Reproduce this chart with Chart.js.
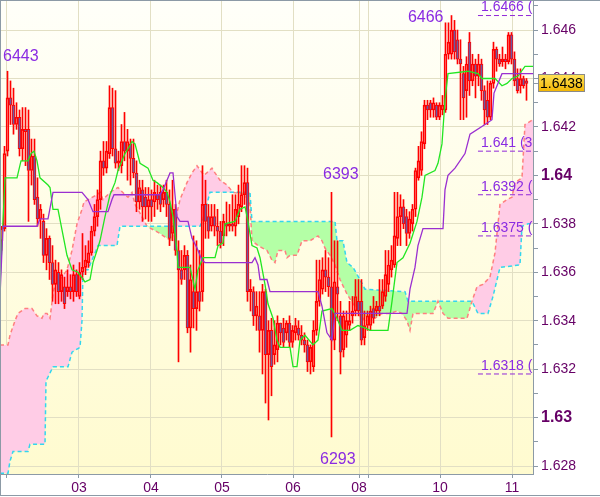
<!DOCTYPE html>
<html>
<head>
<meta charset="utf-8">
<script src="https://cdn.jsdelivr.net/npm/chart.js@4.4.1/dist/chart.umd.min.js"></script>
<style>
  html, body { margin: 0; padding: 0; background: #fff; }
  canvas { display: block; }
</style>
</head>
<body>
<canvas id="chart" width="600" height="497"></canvas>
<script>
// hourly candles, bar 0 is the first one on the left
const open = [
  1.6373,1.6378,1.6410,1.6432,1.6429,1.6421,1.6424,1.6411,1.6419,1.6419,
  1.6402,1.6408,1.6391,1.6382,1.6381,1.6367,1.6374,1.6364,1.6355,1.6360,
  1.6352,1.6354,1.6352,1.6354,1.6352,1.6359,1.6350,1.6360,1.6362,1.6364,
  1.6368,1.6377,1.6383,1.6390,1.6406,1.6403,1.6409,1.6428,1.6411,1.6405,
  1.6404,1.6414,1.6410,1.6413,1.6407,1.6401,1.6389,1.6394,1.6391,1.6387,
  1.6390,1.6389,1.6392,1.6393,1.6390,1.6393,1.6388,1.6376,1.6386,1.6369,
  1.6361,1.6361,1.6367,1.6337,1.6352,1.6345,1.6352,1.6352,1.6388,1.6383,
  1.6379,1.6383,1.6379,1.6377,1.6375,1.6380,1.6379,1.6380,1.6379,1.6383,
  1.6387,1.6392,1.6397,1.6352,1.6352,1.6342,1.6342,1.6336,1.6352,1.6326,
  1.6336,1.6326,1.6328,1.6339,1.6337,1.6335,1.6339,1.6331,1.6335,1.6337,
  1.6334,1.6332,1.6330,1.6323,1.6321,1.6336,1.6348,1.6353,1.6361,1.6358,
  1.6354,1.6332,1.6354,1.6342,1.6328,1.6334,1.6338,1.6342,1.6344,1.6348,
  1.6348,1.6333,1.6338,1.6338,1.6345,1.6344,1.6346,1.6346,1.6350,1.6355,
  1.6361,1.6363,1.6374,1.6383,1.6387,1.6383,1.6376,1.6380,1.6386,1.6399,
  1.6402,1.6413,1.6429,1.6430,1.6427,1.6429,1.6424,1.6427,1.6427,1.6450,
  1.6450,1.6460,1.6456,1.6448,1.6442,1.6435,1.6455,1.6439,1.6446,1.6441,
  1.6446,1.6435,1.6431,1.6424,1.6438,1.6452,1.6448,1.6447,1.6448,1.6447,
  1.6458,1.6448,1.6440,1.6437,1.6440,1.6439
];
const high = [
  1.6379,1.6412,1.6443,1.6439,1.6436,1.6430,1.6427,1.6428,1.6428,1.6427,
  1.6415,1.6415,1.6399,1.6388,1.6384,1.6378,1.6375,1.6371,1.6365,1.6364,
  1.6361,1.6358,1.6361,1.6359,1.6363,1.6361,1.6364,1.6376,1.6371,1.6373,
  1.6379,1.6388,1.6394,1.6410,1.6414,1.6414,1.6437,1.6436,1.6435,1.6410,
  1.6421,1.6426,1.6419,1.6415,1.6415,1.6406,1.6398,1.6398,1.6395,1.6395,
  1.6394,1.6398,1.6396,1.6396,1.6396,1.6398,1.6394,1.6398,1.6388,1.6373,
  1.6369,1.6371,1.6369,1.6363,1.6375,1.6373,1.6369,1.6404,1.6398,1.6388,
  1.6388,1.6388,1.6386,1.6381,1.6384,1.6389,1.6388,1.6392,1.6392,1.6396,
  1.6404,1.6404,1.6403,1.6357,1.6354,1.6352,1.6352,1.6355,1.6353,1.6340,
  1.6341,1.6340,1.6342,1.6339,1.6341,1.6340,1.6342,1.6338,1.6341,1.6340,
  1.6338,1.6335,1.6332,1.6330,1.6340,1.6365,1.6365,1.6366,1.6369,1.6366,
  1.6393,1.6373,1.6373,1.6348,1.6344,1.6344,1.6348,1.6350,1.6357,1.6357,
  1.6357,1.6344,1.6344,1.6346,1.6350,1.6348,1.6357,1.6357,1.6369,1.6369,
  1.6371,1.6393,1.6393,1.6392,1.6390,1.6386,1.6385,1.6388,1.6403,1.6412,
  1.6418,1.6431,1.6431,1.6431,1.6432,1.6430,1.6430,1.6433,1.6463,1.6463,
  1.6466,1.6464,1.6460,1.6456,1.6445,1.6449,1.6459,1.6450,1.6448,1.6450,
  1.6448,1.6437,1.6439,1.6439,1.6455,1.6453,1.6450,1.6453,1.6450,1.6459,
  1.6459,1.6451,1.6444,1.6444,1.6441,1.6440
];
const low = [
  1.6369,1.6377,1.6408,1.6421,1.6417,1.6419,1.6408,1.6406,1.6404,1.6381,
  1.6396,1.6388,1.6379,1.6374,1.6364,1.6361,1.6357,1.6348,1.6347,1.6347,
  1.6348,1.6345,1.6350,1.6349,1.6348,1.6350,1.6349,1.6357,1.6359,1.6362,
  1.6367,1.6375,1.6379,1.6386,1.6400,1.6401,1.6407,1.6408,1.6403,1.6402,
  1.6401,1.6406,1.6398,1.6396,1.6399,1.6385,1.6386,1.6381,1.6382,1.6381,
  1.6381,1.6383,1.6386,1.6385,1.6387,1.6383,1.6371,1.6373,1.6367,1.6323,
  1.6355,1.6357,1.6335,1.6327,1.6337,1.6336,1.6344,1.6348,1.6374,1.6374,
  1.6377,1.6375,1.6371,1.6370,1.6371,1.6375,1.6377,1.6377,1.6375,1.6380,
  1.6385,1.6388,1.6348,1.6344,1.6338,1.6336,1.6327,1.6318,1.6306,1.6299,
  1.6309,1.6322,1.6323,1.6330,1.6329,1.6332,1.6329,1.6329,1.6332,1.6332,
  1.6330,1.6327,1.6319,1.6318,1.6319,1.6334,1.6346,1.6351,1.6352,1.6350,
  1.6292,1.6328,1.6340,1.6318,1.6325,1.6329,1.6336,1.6339,1.6342,1.6342,
  1.6330,1.6330,1.6336,1.6336,1.6339,1.6342,1.6342,1.6345,1.6348,1.6352,
  1.6358,1.6362,1.6371,1.6371,1.6378,1.6371,1.6374,1.6377,1.6383,1.6398,
  1.6400,1.6411,1.6423,1.6424,1.6424,1.6423,1.6423,1.6425,1.6426,1.6448,
  1.6448,1.6448,1.6446,1.6423,1.6423,1.6424,1.6433,1.6437,1.6432,1.6437,
  1.6431,1.6421,1.6421,1.6423,1.6436,1.6443,1.6445,1.6445,1.6444,1.6446,
  1.6446,1.6437,1.6434,1.6434,1.6436,1.6431
];
const close = [
  1.6378,1.6409,1.6432,1.6429,1.6421,1.6424,1.6411,1.6419,1.6418,1.6402,
  1.6408,1.6390,1.6382,1.6386,1.6367,1.6374,1.6364,1.6355,1.6361,1.6352,
  1.6359,1.6347,1.6354,1.6352,1.6359,1.6352,1.6360,1.6362,1.6365,1.6368,
  1.6377,1.6383,1.6390,1.6406,1.6403,1.6410,1.6428,1.6411,1.6405,1.6406,
  1.6414,1.6410,1.6414,1.6407,1.6401,1.6389,1.6395,1.6387,1.6387,1.6390,
  1.6387,1.6393,1.6390,1.6388,1.6393,1.6388,1.6374,1.6386,1.6369,1.6361,
  1.6357,1.6367,1.6337,1.6357,1.6345,1.6352,1.6348,1.6388,1.6381,1.6377,
  1.6383,1.6379,1.6377,1.6372,1.6381,1.6379,1.6380,1.6379,1.6386,1.6388,
  1.6392,1.6397,1.6352,1.6353,1.6342,1.6346,1.6336,1.6352,1.6326,1.6336,
  1.6321,1.6330,1.6339,1.6335,1.6331,1.6339,1.6331,1.6336,1.6338,1.6334,
  1.6332,1.6330,1.6323,1.6329,1.6336,1.6348,1.6357,1.6361,1.6358,1.6354,
  1.6332,1.6356,1.6351,1.6327,1.6342,1.6340,1.6340,1.6344,1.6350,1.6344,
  1.6332,1.6338,1.6342,1.6344,1.6341,1.6346,1.6344,1.6352,1.6359,1.6363,
  1.6365,1.6375,1.6383,1.6387,1.6380,1.6376,1.6382,1.6386,1.6402,1.6406,
  1.6414,1.6429,1.6427,1.6427,1.6430,1.6424,1.6429,1.6429,1.6450,1.6455,
  1.6460,1.6451,1.6448,1.6446,1.6432,1.6446,1.6439,1.6446,1.6441,1.6446,
  1.6435,1.6427,1.6424,1.6438,1.6452,1.6448,1.6446,1.6448,1.6447,1.6458,
  1.6448,1.6439,1.6435,1.6440,1.6437,1.6438
];

// ichimoku lines, x in bar units
const tenkanX = [0,1.67,5.67,7,9.33,10.33,11.33,12.33,13.33,16,16.67,17.67,19.33,22.33,24,26,28.33,30,31,32.33,33.33,35,36.67,38.33,39.33,41.67,42.67,44,45,46.67,49.33,51,52.33,54.33,55.67,56.67,57.67,59,59.33,63.33,65,66,67.67,71.67,72.67,74.33,75,78.33,80,81.67,82.67,84,85.67,86.67,88.33,89.33,91,92.33,93.33,96.67,97.67,99,100,101.67,104.33,106,107.33,110.67,112.33,114,116.67,119.33,121.67,123.33,129.33,130.67,132.33,134.33,136.67,139,140.67,141.67,145,146,147.33,148.33,149.33,156,159.33,160.67,165,167.33,169,170.67,172.67,175,177.67];
const tenkanY = [1.6355,1.6399,1.6399,1.6406,1.6406,1.6409,1.6410,1.6406,1.6399,1.6396,1.6395,1.6386,1.6386,1.6367,1.6361,1.6360,1.6356,1.6357,1.6364,1.6369,1.6373,1.6383,1.6392,1.6397,1.6402,1.6409,1.6411,1.6414,1.6413,1.6405,1.6403,1.6398,1.6397,1.6395,1.6393,1.6389,1.6383,1.6369,1.6362,1.6362,1.6353,1.6361,1.6366,1.6366,1.6371,1.6372,1.6380,1.6381,1.6386,1.6387,1.6381,1.6371,1.6370,1.6366,1.6355,1.6347,1.6341,1.6332,1.6329,1.6329,1.6321,1.6321,1.6332,1.6334,1.6330,1.6332,1.6344,1.6345,1.6341,1.6336,1.6336,1.6338,1.6337,1.6336,1.6336,1.6348,1.6364,1.6366,1.6372,1.6381,1.6391,1.6400,1.6402,1.6405,1.6413,1.6431,1.6442,1.6443,1.6442,1.6440,1.6440,1.6437,1.6438,1.6440,1.6441,1.6445,1.6445];

const kijunX = [0,1,12.33,13.33,16,17.67,27.33,29.33,31,36,37.33,38,53.33,54.33,55.67,56.67,57.67,59,60,62.67,64,65.67,67.33,68.33,84,85,86,86.67,89,90,106,107.33,109,110.67,111.67,135.67,136.67,138.33,139.33,141,147.67,148.33,149.33,151.67,155,156.67,161.67,164,164.67,165.67,167.33,172.67,177.67];
const kijunY = [1.6350,1.6379,1.6379,1.6382,1.6382,1.6393,1.6393,1.6390,1.6385,1.6385,1.6390,1.6392,1.6392,1.6394,1.6398,1.6401,1.6401,1.6383,1.6381,1.6381,1.6374,1.6370,1.6365,1.6364,1.6364,1.6366,1.6363,1.6357,1.6357,1.6352,1.6352,1.6346,1.6335,1.6332,1.6343,1.6343,1.6353,1.6362,1.6371,1.6378,1.6378,1.6394,1.6400,1.6403,1.6409,1.6417,1.6421,1.6423,1.6434,1.6437,1.6442,1.6442,1.6442];

const spanAX = [0,2.67,3.33,5,6,8.33,10.67,12.33,14,14.67,15.67,16.67,17.67,18.33,20.67,22.33,24,25.67,27.33,28,29.33,32.33,33.33,34.33,36.67,39.33,41.67,42.67,44,45,47.33,49,53.33,55.67,57.33,58,60,62.33,64,65.67,68,70.67,71.67,73.33,75.67,77.67,81.67,83.33,84,86,89,90.67,91.67,92.67,95,95.67,96.67,99,100.67,103.33,106,107.33,108.33,110,111.67,113.33,115.67,117.67,119,120.67,122,125,127.33,130,132.33,134,135.67,136.67,137.67,144.33,146,147.67,149.33,155.67,157.33,159,161,163.33,165,166.67,169,170.67,171.67,174,175,177.67];
const spanAY = [1.6330,1.6330,1.6334,1.6340,1.6343,1.6345,1.6345,1.6342,1.6341,1.6343,1.6343,1.6341,1.6351,1.6355,1.6358,1.6361,1.6369,1.6380,1.6386,1.6389,1.6390,1.6392,1.6393,1.6390,1.6393,1.6395,1.6392,1.6391,1.6393,1.6388,1.6383,1.6379,1.6376,1.6374,1.6373,1.6379,1.6390,1.6397,1.6401,1.6404,1.6400,1.6403,1.6401,1.6398,1.6396,1.6393,1.6392,1.6388,1.6373,1.6371,1.6369,1.6365,1.6364,1.6369,1.6369,1.6366,1.6367,1.6367,1.6373,1.6373,1.6375,1.6373,1.6370,1.6367,1.6363,1.6357,1.6351,1.6347,1.6345,1.6340,1.6342,1.6341,1.6343,1.6343,1.6344,1.6343,1.6340,1.6336,1.6343,1.6343,1.6348,1.6343,1.6341,1.6341,1.6348,1.6354,1.6355,1.6358,1.6368,1.6388,1.6390,1.6391,1.6397,1.6399,1.6421,1.6423];

const spanBX = [0,2.67,3.33,4.33,9.33,10,15,15.33,17.67,22.67,24,26.67,27.33,27.67,29.33,32.67,39,40,41,66.67,67.67,70,83.33,84,111.67,112.33,114.33,115.67,117.67,120,121.67,135,136,157.33,159.33,162.67,164.33,166.67,173.33,174,176,177.67];
const spanBY = [1.6277,1.6277,1.6282,1.6286,1.6286,1.6289,1.6289,1.6315,1.6321,1.6321,1.6327,1.6329,1.6340,1.6361,1.6361,1.6371,1.6371,1.6379,1.6379,1.6379,1.6382,1.6393,1.6393,1.6381,1.6381,1.6373,1.6373,1.6364,1.6362,1.6357,1.6353,1.6352,1.6348,1.6348,1.6343,1.6343,1.6350,1.6362,1.6363,1.6379,1.6380,1.6380];

const dayTicks = [2.33, 26.33, 50.33, 74, 97.67, 119.67, 122.67, 146.67, 170.67];
const dayLabels = ['', '03', '04', '05', '06', '08', '', '10', '11'];
const priceTicks = [1.628,1.629,1.630,1.631,1.632,1.633,1.634,1.635,1.636,1.637,1.638,1.639,1.640,1.641,1.642,1.643,1.644,1.645,1.646,1.647];

const levelValues = [1.6466, 1.6410, 1.6392, 1.6375, 1.6318];
const levelTexts = ['1.6466 (', '1.641 (3', '1.6392 (', '1.6375 (', '1.6318 ('];
const levelStart = 159.33;

const markBars = [2, 150, 110, 110];
const markTexts = ['6443', '6466', '6393', '6293'];

const FONT = '"Liberation Sans", Arial, sans-serif';
const AXIS = '#8c9aa6';
const GRID = '#e2dfc4';
const LABEL = '#660066';
const VIOLET = '#8a2be2';

function pts(xs, ys) {
  return xs.map((x, i) => ({ x: x, y: ys[i] }));
}

function milli(c) {
  if (!c || !c.tick) return -1;
  return Math.round(c.tick.value * 1000);
}

let lowerWick = [], upperWick = [], bodies = [], bodyColors = [];
for (let i = 0; i < open.length; i++) {
  let top = Math.max(open[i], close[i]);
  let bot = Math.min(open[i], close[i]);
  lowerWick.push({ x: i + 0.5, y: [low[i], bot] });
  upperWick.push({ x: i + 0.5, y: [top, high[i]] });
  bodies.push({ x: i + 0.5, y: [open[i], close[i]] });
  bodyColors.push(close[i] < open[i] ? '#6e5aa0' : 'rgba(255,255,255,0)');
}

let datasets = [
  {
    type: 'line', data: pts(spanAX, spanAY), borderColor: '#ff7f7f', borderWidth: 1.5,
    borderDash: [4, 3], pointRadius: 0, order: 10,
    fill: { target: 1, above: '#ffcce6', below: '#b4ffa6' }
  },
  {
    type: 'line', data: pts(spanBX, spanBY), borderColor: '#33d6ee', borderWidth: 1.5,
    borderDash: [4, 3], pointRadius: 0, order: 9, fill: false
  },
  { type: 'bar', data: lowerWick, backgroundColor: '#ff0000', barThickness: 1, grouped: false, order: 6 },
  { type: 'bar', data: upperWick, backgroundColor: '#ff0000', barThickness: 1, grouped: false, order: 6 },
  {
    type: 'bar', data: bodies, backgroundColor: bodyColors, borderColor: '#ff0000', borderWidth: 1,
    borderSkipped: false, barThickness: 3, grouped: false, minBarLength: 1, order: 5
  },
  { type: 'line', data: pts(tenkanX, tenkanY), borderColor: '#22e622', borderWidth: 1.3, pointRadius: 0, fill: false, order: 2 },
  { type: 'line', data: pts(kijunX, kijunY), borderColor: '#9a2fd0', borderWidth: 1.3, pointRadius: 0, fill: false, order: 1 }
];
levelValues.forEach(v => {
  datasets.push({
    type: 'line', data: [{ x: levelStart, y: v }, { x: 177.67, y: v }], borderColor: '#9028d8',
    borderWidth: 1, borderDash: [5, 3], pointRadius: 0, fill: false, order: 0
  });
});

const backdrop = {
  id: 'backdrop',
  beforeDraw(chart) {
    const { ctx, chartArea: a } = chart;
    ctx.save();
    ctx.fillStyle = '#fff';
    ctx.fillRect(0, 0, chart.width, chart.height);
    let g = ctx.createLinearGradient(0, a.top, 0, a.bottom);
    g.addColorStop(0, '#fffff9');
    g.addColorStop(1, '#fffbcf');
    ctx.fillStyle = g;
    ctx.fillRect(a.left, a.top, a.right - a.left, a.bottom - a.top);
    ctx.restore();
  }
};

const overlay = {
  id: 'overlay',
  afterDraw(chart) {
    const { ctx, chartArea: a } = chart;
    const xs = chart.scales.x, ys = chart.scales.y;
    ctx.save();

    // frame
    ctx.strokeStyle = AXIS;
    ctx.lineWidth = 1;
    ctx.beginPath();
    ctx.moveTo(0, 0.5); ctx.lineTo(chart.width, 0.5);
    ctx.moveTo(0.5, 0); ctx.lineTo(0.5, 496);
    ctx.moveTo(0, 495.5); ctx.lineTo(chart.width, 495.5);
    ctx.stroke();

    // texts inside the plot
    ctx.save();
    ctx.beginPath();
    ctx.rect(a.left, a.top, a.right - a.left, a.bottom - a.top);
    ctx.clip();
    ctx.fillStyle = VIOLET;
    ctx.textBaseline = 'bottom';
    ctx.textAlign = 'left';
    ctx.font = '14px ' + FONT;
    levelValues.forEach((v, i) => {
      ctx.fillText(levelTexts[i], xs.getPixelForValue(levelStart) + 3, ys.getPixelForValue(v) - 1);
    });

    ctx.font = '16px ' + FONT;
    ctx.textBaseline = 'middle';
    let hx = i => xs.getPixelForValue(markBars[i] + 0.5);
    ctx.textAlign = 'left';
    ctx.fillText(markTexts[0], hx(0) - 4.5, ys.getPixelForValue(high[markBars[0]]) - 15);
    ctx.textAlign = 'right';
    ctx.fillText(markTexts[1], hx(1) - 8, ys.getPixelForValue(high[markBars[1]]) + 2);
    ctx.textAlign = 'left';
    ctx.fillText(markTexts[2], hx(2) - 8.5, ys.getPixelForValue(high[markBars[2]]) - 18);
    ctx.fillText(markTexts[3], hx(3) - 11.5, ys.getPixelForValue(low[markBars[3]]) + 23);
    ctx.restore();

    // last price box
    let last = close[close.length - 1];
    let py = Math.round(ys.getPixelForValue(last));
    ctx.strokeStyle = AXIS;
    ctx.beginPath();
    ctx.moveTo(a.right, py + 0.5); ctx.lineTo(538, py + 0.5);
    ctx.stroke();
    let g = ctx.createLinearGradient(0, py - 9, 0, py + 9);
    g.addColorStop(0, '#ffe35a');
    g.addColorStop(1, '#f2b400');
    ctx.fillStyle = g;
    ctx.fillRect(538, py - 9, 47, 18);
    ctx.strokeStyle = '#8a8a8a';
    ctx.strokeRect(538.5, py - 8.5, 46, 17);
    ctx.fillStyle = '#000';
    ctx.font = '14px ' + FONT;
    ctx.textAlign = 'left';
    ctx.textBaseline = 'middle';
    ctx.fillText(last.toFixed(4), 540, py + 1);
    ctx.restore();
  }
};

new Chart(document.getElementById('chart'), {
  type: 'bar',
  data: { datasets: datasets },
  options: {
    responsive: false,
    animation: false,
    layout: { padding: { left: 1, top: 1, right: 0, bottom: 0 } },
    plugins: { legend: { display: false }, tooltip: { enabled: false } },
    scales: {
      x: {
        type: 'linear', min: 1 / 3, max: 177.67, offset: false, bounds: 'data',
        grid: { offset: false, color: GRID, tickColor: AXIS, tickLength: 4 },
        border: { color: AXIS },
        afterBuildTicks: s => { s.ticks = dayTicks.map(v => ({ value: v })); },
        afterFit: s => { s.height = 23; s.paddingLeft = 0; s.paddingRight = 0; },
        ticks: {
          autoSkip: false, maxRotation: 0, padding: 2, color: LABEL,
          font: { family: FONT, size: 14 },
          callback: (v, i) => dayLabels[i]
        }
      },
      y: {
        position: 'right', min: 1.62767, max: 1.6472, bounds: 'data', beginAtZero: false,
        grid: {
          color: c => (milli(c) % 2 === 0 ? GRID : 'rgba(0,0,0,0)'),
          tickColor: AXIS, tickLength: 5
        },
        border: { color: AXIS },
        afterBuildTicks: s => { s.ticks = priceTicks.map(v => ({ value: v })); },
        afterFit: s => { s.width = 67; s.paddingTop = 0; s.paddingBottom = 0; },
        ticks: {
          autoSkip: false, padding: 3, color: LABEL,
          font: c => {
            let m = milli(c);
            return (m === 1640 || m === 1630)
              ? { family: FONT, size: 16, weight: 'bold' }
              : { family: FONT, size: 14 };
          },
          callback: v => {
            let m = Math.round(v * 1000);
            return m % 2 === 0 ? String(m / 1000) : '';
          }
        }
      }
    }
  },
  plugins: [backdrop, overlay]
});
</script>
</body>
</html>
